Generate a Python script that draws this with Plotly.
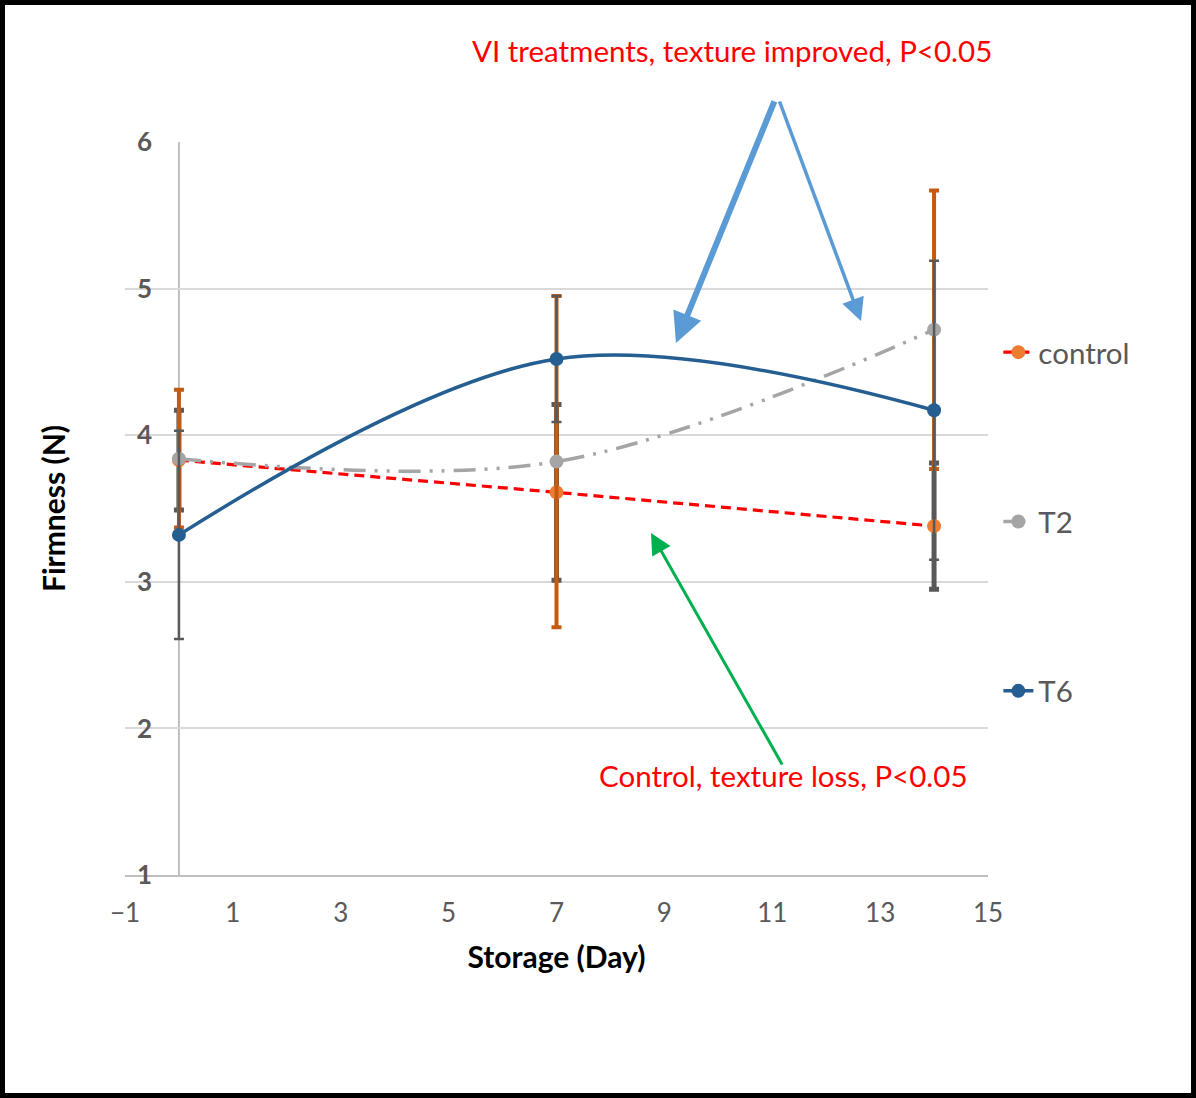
import plotly.graph_objects as go

# ---- data ----
days = [0, 7, 14]
control = [3.83, 3.61, 3.38]
control_err = [0.34, 0.60, 0.43]
t2 = [3.84, 3.82, 4.72]
t2_err = [0.47, 1.13, 0.95]
t6 = [3.32, 4.52, 4.17]
t6_err = [0.71, 0.43, 1.02]

x_ticks = [-1, 1, 3, 5, 7, 9, 11, 13, 15]
y_ticks = [1, 2, 3, 4, 5, 6]

FONT = "Lato"
GRAY_TXT = "#595959"

fig = go.Figure()

fig.add_trace(go.Scatter(
    x=days, y=control, name="control", mode="lines+markers",
    line=dict(color="#FF0000", width=3.2, dash="10px,6px"),
    marker=dict(color="#ED7D31", size=14),
    error_y=dict(type="data", array=control_err, color="#595959", thickness=5, width=5),
    legendgroup="c",
))
fig.add_trace(go.Scatter(
    x=days, y=t2, name="T2", mode="lines+markers",
    line=dict(color="#A5A5A5", width=3.5, shape="spline", smoothing=1,
              dash="22px,9px,3px,9px,3px,9px"),
    marker=dict(color="#A5A5A5", size=14),
    error_y=dict(type="data", array=t2_err, color="#C55A11", thickness=4, width=5),
    legendgroup="t2",
))
fig.add_trace(go.Scatter(
    x=days, y=t6, name="T6", mode="lines+markers",
    line=dict(color="#255E91", width=3.5, shape="spline", smoothing=1),
    marker=dict(color="#255E91", size=14),
    error_y=dict(type="data", array=t6_err, color="#595959", thickness=2.5, width=5),
    legendgroup="t6",
))

# y axis line at x=0
fig.add_shape(type="line", x0=0, x1=0, y0=1, y1=6, xref="x", yref="y",
              line=dict(color="#BFBFBF", width=2), layer="below")

# outer frame
fig.add_shape(type="rect", xref="paper", yref="paper",
              x0=-0.14195, x1=1.23812, y0=-0.30082, y1=1.19031,
              line=dict(color="black", width=5))

# annotations
fig.add_annotation(x=0.7036, y=1.1255, xref="paper", yref="paper",
                   xanchor="center", yanchor="middle",
                   text="VI treatments, texture improved, P<0.05", showarrow=False,
                   font=dict(family=FONT, size=29.5, color="#FF0000"))
fig.add_annotation(x=0.7626, y=0.1351, xref="paper", yref="paper",
                   xanchor="center", yanchor="middle",
                   text="Control, texture loss, P<0.05", showarrow=False,
                   font=dict(family=FONT, size=29.5, color="#FF0000"))

# arrows
fig.add_annotation(x=9.215, y=4.629, xref="x", yref="y", ax=99, ay=-243, text="",
                   showarrow=True, arrowhead=2, arrowwidth=6, arrowsize=1.0,
                   arrowcolor="#5B9BD5")
fig.add_annotation(x=12.645, y=4.779, xref="x", yref="y", ax=-82, ay=-221, text="",
                   showarrow=True, arrowhead=2, arrowwidth=3.5, arrowsize=1.3,
                   arrowcolor="#5B9BD5")
fig.add_annotation(x=8.752, y=3.333, xref="x", yref="y", ax=132, ay=233, text="",
                   showarrow=True, arrowhead=2, arrowwidth=3, arrowsize=1.4,
                   arrowcolor="#00B050")

fig.update_layout(
    width=1196, height=1098,
    margin=dict(l=125, r=208, t=142, b=223),
    paper_bgcolor="white", plot_bgcolor="white",
    font=dict(family=FONT, color=GRAY_TXT),
    legend=dict(x=1.012, xanchor="left", y=0.4816, yanchor="middle",
                font=dict(family=FONT, size=29.5, color=GRAY_TXT),
                tracegroupgap=128, bgcolor="rgba(0,0,0,0)"),
    xaxis=dict(range=[-1, 15], tickvals=x_ticks, showgrid=False, zeroline=False,
               showline=True, linecolor="#BFBFBF", linewidth=2,
               ticks="", ticklabelstandoff=14,
               tickfont=dict(family=FONT, size=26, color=GRAY_TXT),
               title=dict(text="<b>Storage (Day)</b>", standoff=20,
                          font=dict(family=FONT, size=30, color="black"))),
    yaxis=dict(range=[1, 6], tickvals=y_ticks, showgrid=True, gridcolor="#D9D9D9",
               gridwidth=2, zeroline=False, showline=False, ticks="",
               ticklabelstandoff=-28,
               tickfont=dict(family=FONT, size=26, color=GRAY_TXT, weight="bold"),
               title=dict(text="<b>Firmness (N)</b>", standoff=62,
                          font=dict(family=FONT, size=30, color="black"))),
)

fig.write_html("out.html")
